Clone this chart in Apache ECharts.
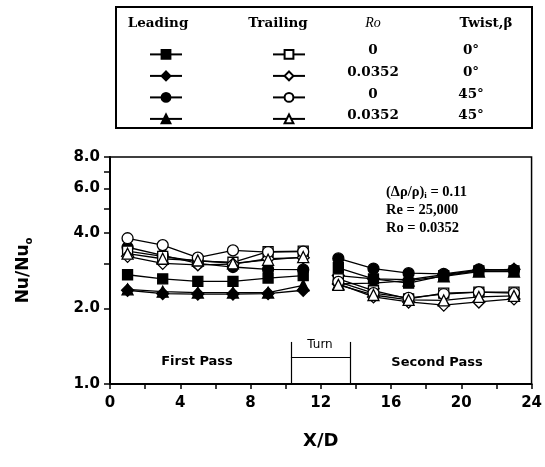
<!DOCTYPE html>
<html><head><meta charset="utf-8">
<script src="https://cdn.jsdelivr.net/npm/echarts@6/dist/echarts.min.js"></script>
<style>html,body{margin:0;padding:0;background:#fff}#c{width:545px;height:467px}</style>
</head><body><div id="c"></div>
<script>
// X/D positions
const xFirst = [1, 3, 5, 7, 9, 11];
const xSecond = [13, 15, 17, 19, 21, 23];
// Leading (filled) series
const leadSqA = [2.72, 2.62, 2.56, 2.56, 2.64, 2.70];
const leadSqB = [2.90, 2.62, 2.52, 2.70, 2.82, 2.82];
const leadDiA = [2.36, 2.29, 2.28, 2.28, 2.29, 2.36];
const leadDiB = [2.70, 2.62, 2.60, 2.72, 2.84, 2.86];
const leadCiA = [3.50, 3.25, 3.02, 2.92, 2.86, 2.85];
const leadCiB = [3.16, 2.88, 2.76, 2.74, 2.86, 2.84];
const leadTrA = [2.38, 2.33, 2.31, 2.31, 2.31, 2.47];
const leadTrB = [2.50, 2.52, 2.58, 2.68, 2.80, 2.80];
// Trailing (open) series
const trailSqA = [3.38, 3.22, 3.08, 3.05, 3.36, 3.38];
const trailSqB = [2.62, 2.35, 2.18, 2.30, 2.32, 2.32];
const trailDiA = [3.22, 3.02, 2.98, 3.00, 3.15, 3.18];
const trailDiB = [2.50, 2.22, 2.12, 2.06, 2.12, 2.18];
const trailCiA = [3.80, 3.57, 3.18, 3.40, 3.35, 3.36];
const trailCiB = [2.55, 2.30, 2.20, 2.28, 2.32, 2.30];
const trailTrA = [3.30, 3.15, 3.10, 3.02, 3.12, 3.20];
const trailTrB = [2.48, 2.26, 2.16, 2.15, 2.22, 2.24];
// Axis tick labels
const yLabels = [1, 2, 4, 6, 8];
const yTicks = [1, 2, 3, 4, 5, 6, 7, 8];
// Legend table columns
const roValues = ['0', '0.0352', '0', '0.0352'];
const twistValues = ['0°', '0°', '45°', '45°'];

function pts(a, b) {
  const d = xFirst.map((x, i) => [x, a[i]]);
  d.push([12, '-']);
  xSecond.forEach((x, i) => d.push([x, b[i]]));
  return d;
}

const defs = [
  {name: 'L-sq', sym: 'rect', size: 10, filled: true, a: leadSqA, b: leadSqB},
  {name: 'L-di', sym: 'diamond', size: 12, filled: true, a: leadDiA, b: leadDiB},
  {name: 'L-ci', sym: 'circle', size: 11, filled: true, a: leadCiA, b: leadCiB},
  {name: 'L-tr', sym: 'triangle', size: 11, filled: true, a: leadTrA, b: leadTrB},
  {name: 'T-sq', sym: 'rect', size: 10, filled: false, a: trailSqA, b: trailSqB},
  {name: 'T-di', sym: 'diamond', size: 12, filled: false, a: trailDiA, b: trailDiB},
  {name: 'T-ci', sym: 'circle', size: 11, filled: false, a: trailCiA, b: trailCiB},
  {name: 'T-tr', sym: 'triangle', size: 11, filled: false, a: trailTrA, b: trailTrB}
];

const series = defs.map(d => ({
  name: d.name,
  type: 'line',
  data: pts(d.a, d.b),
  symbol: d.sym,
  symbolSize: d.size,
  showAllSymbol: true,
  connectNulls: false,
  z: d.filled ? 3 : 4,
  lineStyle: {color: '#000', width: 1.3},
  itemStyle: {color: d.filled ? '#000' : '#fff', borderColor: '#000', borderWidth: 1.3},
  emphasis: {disabled: true},
  animation: false
}));

series[0].markLine = {
  silent: true, symbol: 'none', animation: false,
  lineStyle: {color: '#000', width: 1.2, type: 'solid'},
  label: {show: false},
  data: [
    [{coord: [10.3, 1]}, {coord: [10.3, 1.47]}],
    [{coord: [13.7, 1]}, {coord: [13.7, 1.47]}],
    [{coord: [10.3, 1.28]}, {coord: [13.7, 1.28]}]
  ]
};

const serif = '"Liberation Serif", "DejaVu Serif", serif';
const dserif = '"DejaVu Serif", serif';
const sans = '"DejaVu Sans", sans-serif';
const rowY = [50, 72, 94, 115];
const graphic = [
  {type: 'rect', shape: {x: 116, y: 7, width: 416, height: 121}, style: {fill: 'none', stroke: '#000', lineWidth: 2}, z: 1},
  {type: 'text', x: 158, y: 23, style: {text: 'Leading', font: 'bold 13.5px ' + dserif, fill: '#000', textAlign: 'center', textVerticalAlign: 'middle'}},
  {type: 'text', x: 278, y: 23, style: {text: 'Trailing', font: 'bold 13.5px ' + dserif, fill: '#000', textAlign: 'center', textVerticalAlign: 'middle'}},
  {type: 'text', x: 373, y: 23, style: {text: 'Ro', font: 'italic 14px ' + serif, fill: '#000', textAlign: 'center', textVerticalAlign: 'middle'}},
  {type: 'text', x: 486, y: 23, style: {text: 'Twist,β', font: 'bold 13.5px ' + dserif, fill: '#000', textAlign: 'center', textVerticalAlign: 'middle'}},
  {type: 'text', x: 386, y: 192, style: {rich: {n: {font: 'bold 14.5px ' + serif, fill: '#000'}, s: {font: 'bold 9px ' + serif, fill: '#000', padding: [8, 0, 0, 0]}}, text: '{n|(Δρ/ρ)}{s|i}{n| = 0.11}', textVerticalAlign: 'middle'}},
  {type: 'text', x: 386, y: 210, style: {text: 'Re = 25,000', font: 'bold 14.5px ' + serif, fill: '#000', textVerticalAlign: 'middle'}},
  {type: 'text', x: 386, y: 228, style: {text: 'Ro = 0.0352', font: 'bold 14.5px ' + serif, fill: '#000', textVerticalAlign: 'middle'}},
  {type: 'text', x: 197, y: 362, style: {text: 'First Pass', font: 'bold 13px ' + sans, fill: '#000', textAlign: 'center', textVerticalAlign: 'middle'}},
  {type: 'text', x: 437, y: 363, style: {text: 'Second Pass', font: 'bold 13px ' + sans, fill: '#000', textAlign: 'center', textVerticalAlign: 'middle'}},
  {type: 'text', x: 320, y: 345, style: {text: 'Turn', font: '12px ' + sans, fill: '#000', textAlign: 'center', textVerticalAlign: 'middle'}}
];
roValues.forEach((v, i) => graphic.push({type: 'text', x: 373, y: rowY[i], style: {text: v, font: 'bold 13.5px ' + dserif, fill: '#000', textAlign: 'center', textVerticalAlign: 'middle'}}));
twistValues.forEach((v, i) => graphic.push({type: 'text', x: 471, y: rowY[i], style: {text: v, font: 'bold 13.5px ' + dserif, fill: '#000', textAlign: 'center', textVerticalAlign: 'middle'}}));

const legendCommon = {
  orient: 'vertical', top: 44, itemWidth: 32, itemHeight: 11, itemGap: 10.7,
  formatter: () => '', selectedMode: false,
  textStyle: {fontSize: 8, lineHeight: 10, padding: 0}
};

const chart = echarts.init(document.getElementById('c'), null, {renderer: 'canvas'});
chart.setOption({
  animation: false,
  backgroundColor: '#fff',
  grid: {left: 110, right: 13, top: 157, bottom: 83, show: true, borderColor: '#000', borderWidth: 1.5, backgroundColor: 'transparent'},
  legend: [
    Object.assign({left: 144, data: ['L-sq', 'L-di', 'L-ci', 'L-tr']}, legendCommon),
    Object.assign({left: 267, data: ['T-sq', 'T-di', 'T-ci', 'T-tr']}, legendCommon)
  ],
  xAxis: {
    type: 'value', min: 0, max: 24, interval: 2,
    name: 'X/D', nameLocation: 'middle', nameGap: 48,
    nameTextStyle: {fontFamily: sans, fontWeight: 'bold', fontSize: 18, color: '#000'},
    axisLine: {lineStyle: {color: '#000', width: 2}},
    axisTick: {show: true, inside: false, length: 5, lineStyle: {color: '#000', width: 1.5}},
    axisLabel: {fontFamily: sans, fontWeight: 'bold', fontSize: 15, color: '#000', margin: 12,
      formatter: v => (v % 4 === 0 ? String(v) : '')},
    splitLine: {show: false}
  },
  yAxis: {
    type: 'log', logBase: 2, min: 1, max: 8,
    name: '{a|Nu/Nu}{b|o}', nameLocation: 'middle', nameGap: 76, nameRotate: 90,
    nameTextStyle: {rich: {
      a: {fontFamily: sans, fontWeight: 'bold', fontSize: 17, color: '#000'},
      b: {fontFamily: sans, fontWeight: 'bold', fontSize: 10, color: '#000', padding: [10, 0, 0, 0]}
    }},
    axisLine: {show: true, lineStyle: {color: '#000', width: 2}},
    axisTick: {show: true, inside: false, length: 6, customValues: yTicks, lineStyle: {color: '#000', width: 1.5}},
    axisLabel: {fontFamily: sans, fontWeight: 'bold', fontSize: 15, color: '#000', margin: 10,
      customValues: yLabels, formatter: v => Number(v).toFixed(1)},
    splitLine: {show: false},
    minorTick: {show: false}
  },
  graphic: graphic,
  series: series
});
</script>
</body></html>
